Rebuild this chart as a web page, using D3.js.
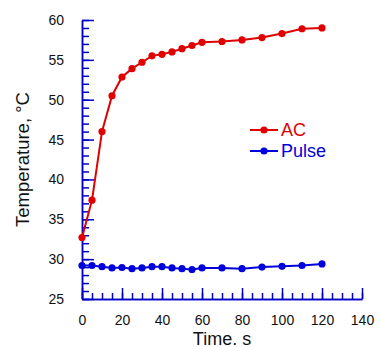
<!DOCTYPE html>
<html>
<head>
<meta charset="utf-8">
<script src="https://cdn.jsdelivr.net/npm/d3@7"></script>
<style>
  body { margin: 0; background: #fff; }
  svg text { font-family: "Liberation Sans", Arial, sans-serif; }
</style>
</head>
<body>
<div id="chart"></div>
<script>
// time points (s)
var times = [0, 5, 10, 15, 20, 25, 30, 35, 40, 45, 50, 55, 60, 70, 80, 90, 100, 110, 120];
// temperatures
var acTemp = [32.7, 37.4, 46.0, 50.5, 52.85, 53.9, 54.7, 55.5, 55.7, 56.0, 56.4, 56.8, 57.2, 57.3, 57.5, 57.8, 58.3, 58.9, 59.0];
var pulseTemp = [29.2, 29.2, 29.05, 28.9, 28.95, 28.8, 28.9, 29.05, 29.05, 28.9, 28.8, 28.7, 28.9, 28.9, 28.8, 29.0, 29.1, 29.2, 29.4];
var seriesNames = ["AC", "Pulse"];
var xTicks = [0, 20, 40, 60, 80, 100, 120, 140];
var yTicks = [25, 30, 35, 40, 45, 50, 55, 60];

var red = "#e00000", blue = "#0000dd", axisBlue = "#0000c8";

// set the dimensions and margins of the graph
var margin = {top: 20, right: 15, bottom: 48, left: 82},
    width = 362 - margin.left,
    height = 299 - margin.top;

var svg = d3.select("#chart")
  .append("svg")
    .attr("width", 378)
    .attr("height", 347)
  .append("g")
    .attr("transform", "translate(" + margin.left + "," + margin.top + ")");

var x = d3.scaleLinear().domain([0, 140]).range([0, width]);
var y = d3.scaleLinear().domain([25, 60]).range([height, 0]);

// minor ticks
svg.append("g")
  .attr("class", "minor")
  .attr("transform", "translate(0," + height + ")")
  .call(d3.axisBottom(x).tickValues(d3.range(0, 141, 5)).tickSizeInner(-6).tickSizeOuter(0).tickFormat(""));
svg.append("g")
  .attr("class", "minor")
  .call(d3.axisLeft(y).tickValues(d3.range(25, 61, 1)).tickSizeInner(-7).tickSizeOuter(0).tickFormat(""));

// major ticks + labels
svg.append("g")
  .attr("class", "major")
  .attr("transform", "translate(0," + height + ")")
  .call(d3.axisBottom(x).tickValues(xTicks).tickSizeInner(-11).tickSizeOuter(0).tickPadding(16));
svg.append("g")
  .attr("class", "major")
  .call(d3.axisLeft(y).tickValues(yTicks).tickSizeInner(-12).tickSizeOuter(0).tickPadding(18));

svg.selectAll(".minor, .major").selectAll("line, path")
  .attr("stroke", axisBlue)
  .attr("stroke-width", 1.5);
svg.selectAll(".major text")
  .attr("fill", "#111")
  .style("font-size", "14px");

// axis titles
svg.append("text")
  .attr("x", width / 2)
  .attr("y", height + 46)
  .attr("text-anchor", "middle")
  .style("font-size", "18px")
  .attr("fill", "#111")
  .text("Time. s");

svg.append("text")
  .attr("transform", "rotate(-90)")
  .attr("x", -height / 2)
  .attr("y", 29 - margin.left)
  .attr("text-anchor", "middle")
  .style("font-size", "18.5px")
  .attr("fill", "#111")
  .text("Temperature,  °C");

// series
var series = [
  {name: seriesNames[0], values: acTemp, color: red},
  {name: seriesNames[1], values: pulseTemp, color: blue}
];

var line = d3.line()
  .x(function(d, i) { return x(times[i]); })
  .y(function(d) { return y(d); });

series.forEach(function(s) {
  svg.append("path")
    .datum(s.values)
    .attr("fill", "none")
    .attr("stroke", s.color)
    .attr("stroke-width", 2)
    .attr("d", line);
  svg.selectAll(null)
    .data(s.values)
    .enter()
    .append("circle")
      .attr("cx", function(d, i) { return x(times[i]); })
      .attr("cy", function(d) { return y(d); })
      .attr("r", 3.6)
      .attr("fill", s.color);
});

// legend
var legend = svg.append("g")
  .attr("transform", "translate(" + (250 - margin.left) + "," + (130 - margin.top) + ")");
series.forEach(function(s, i) {
  var g = legend.append("g").attr("transform", "translate(0," + (i * 21) + ")");
  g.append("line").attr("x1", 0).attr("x2", 28).attr("y1", 0).attr("y2", 0)
    .attr("stroke", s.color).attr("stroke-width", 2);
  g.append("circle").attr("cx", 14).attr("cy", 0).attr("r", 3.6).attr("fill", s.color);
  g.append("text")
    .attr("x", 31)
    .attr("y", 0)
    .attr("dy", "0.36em")
    .style("font-size", "18px")
    .attr("fill", s.color)
    .text(s.name);
});
</script>
</body>
</html>
